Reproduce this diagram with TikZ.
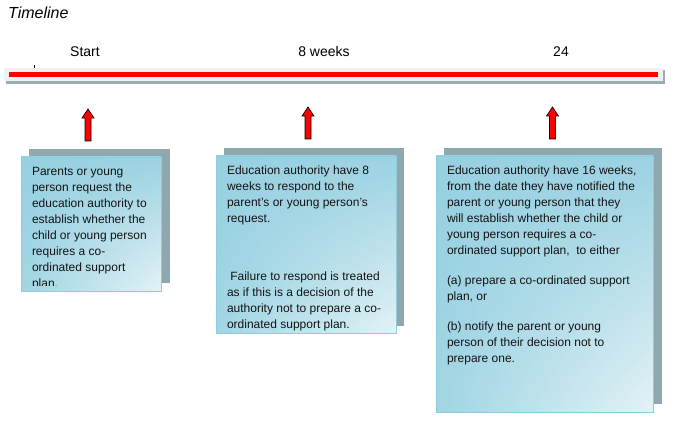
\documentclass[tikz,border=0pt]{standalone}
\usepackage{fontspec}
\setmainfont{Liberation Sans}
\usetikzlibrary{shadings}
\definecolor{shadowc}{RGB}{143,168,176}
\definecolor{edgec}{RGB}{140,205,222}
\definecolor{barc}{RGB}{240,240,240}
\definecolor{barsh}{RGB}{150,174,180}
\definecolor{txt}{RGB}{20,20,20}
\definecolor{redc}{RGB}{255,0,0}
\definecolor{shUL}{RGB}{150,208,225}
\definecolor{shUR}{RGB}{155,210,226}
\definecolor{shLL}{RGB}{160,213,228}
\definecolor{shLR}{RGB}{228,242,246}
\begin{document}
\begin{tikzpicture}[x=1pt,y=-1pt,
  shadowbox/.style={fill=shadowc, draw=none, inner sep=0pt, outer sep=0pt, anchor=north west},
  frontbox/.style={draw=edgec, line width=0.8pt, inner sep=0pt, outer sep=0pt, anchor=north west,
     upper left=shUL, upper right=shUR, lower left=shLL, lower right=shLR},
  bodytext/.style={inner sep=0pt, outer sep=0pt, anchor=north west, align=left, text=txt,
     font=\fontsize{12}{16}\selectfont},
  label/.style={inner sep=0pt, anchor=base, font=\fontsize{14}{16}\selectfont, text=black},
  uparrow/.style={fill=redc, draw=black, line width=0.6pt, line join=miter}
]
\useasboundingbox (0,0) rectangle (689,430);

% title
\node[inner sep=0pt, anchor=base west, font=\fontsize{16}{18}\selectfont\itshape] (title) at (8,19) {Timeline};

% timeline labels
\node[label] (lstart) at (85,57) {Start};
\node[label] (l8) at (324,57) {8 weeks};
\node[label] (l24) at (561,57) {24};

% timeline bar
\fill[barsh] (6,70) rectangle (665,84);
\fill[barc] (4,68) rectangle (663,81);
\coordinate (tl0) at (9,74.5);
\coordinate (tl1) at (658,74.5);
\draw[redc, line width=5pt] (tl0) -- (tl1);
\draw[black, line width=1pt] (34,65) -- (34,68);

% arrows
\foreach \cx/\ty/\by in {88/109/141, 308/107/139, 552.5/107/139}{
  \draw[uparrow] (\cx-3,\by) -- (\cx-3,\ty+9) -- (\cx-6,\ty+9) -- (\cx,\ty)
     -- (\cx+6,\ty+9) -- (\cx+3,\ty+9) -- (\cx+3,\by) -- cycle;
}

% box 1
\node[shadowbox, minimum width=141, minimum height=134] (s1) at (29,149) {};
\node[frontbox, minimum width=140, minimum height=134] (b1) at (21,157) {};
\begin{scope}
\clip (21,157) rectangle (161,286);
\node[bodytext] (t1) at (32,167.2) {Parents or young\\person request the\\education authority to\\establish whether the\\child or young person\\requires a co-\\ordinated support\\plan.};
\end{scope}

% box 2
\node[shadowbox, minimum width=180, minimum height=178] (s2) at (224,148) {};
\node[frontbox, minimum width=180, minimum height=177] (b2) at (216,156) {};
\node[bodytext] (t2) at (227,165.4) {Education authority have 8\\weeks to respond to the\\parent's or young person's\\request.\\[42pt]\hspace{3.3pt}Failure to respond is treated\\as if this is a decision of the\\authority not to prepare a co-\\ordinated support plan.};

% box 3
\node[shadowbox, minimum width=218, minimum height=256] (s3) at (444,148) {};
\node[frontbox, minimum width=217, minimum height=256] (b3) at (436,156) {};
\node[bodytext] (t3) at (447,165.6) {Education authority have 16 weeks,\\from the date they have notified the\\parent or young person that they\\will establish whether the child or\\young person requires a co-\\ordinated support plan,\ \ to either\\[14pt](a) prepare a co-ordinated support\\plan, or\\[14pt](b) notify the parent or young\\person of their decision not to\\prepare one.};
\end{tikzpicture}
\end{document}
